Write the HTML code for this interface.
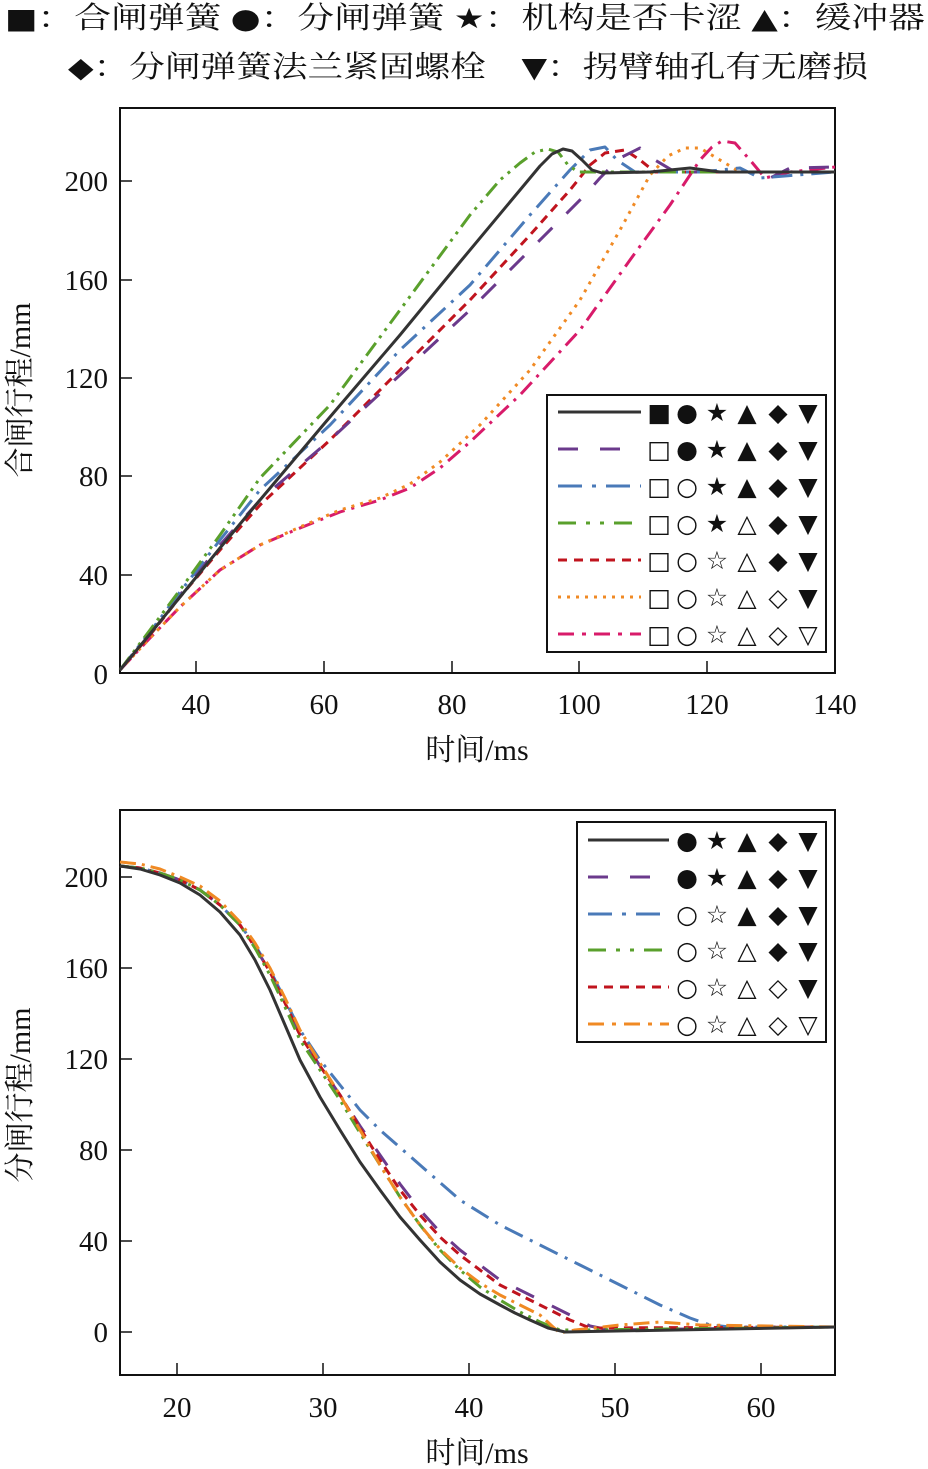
<!DOCTYPE html>
<html><head><meta charset="utf-8"><style>
html,body{margin:0;padding:0;background:#fff}
svg{display:block}
.t{font-family:"Liberation Serif","Noto Serif CJK SC",serif;font-size:29px;fill:#111}
.c{font-family:"Liberation Serif","Noto Serif CJK SC",serif;font-size:30px;fill:#111}
.g{font-family:"DejaVu Sans",sans-serif;font-size:28px}
.m{font-family:"DejaVu Sans",sans-serif;font-size:25px;fill:#111;text-anchor:middle}
</style></head><body>
<svg width="928" height="1469" viewBox="0 0 928 1469" xmlns="http://www.w3.org/2000/svg">
<text class="c" x="5" y="28" textLength="920" lengthAdjust="spacingAndGlyphs"><tspan class="g">■</tspan>：合闸弹簧 <tspan class="g">●</tspan>：分闸弹簧 <tspan class="g">★</tspan>：机构是否卡涩 <tspan class="g">▲</tspan>：缓冲器</text>
<text class="c" x="68" y="77" textLength="800" lengthAdjust="spacingAndGlyphs"><tspan class="g">◆</tspan>：分闸弹簧法兰紧固螺栓　<tspan class="g">▼</tspan>：拐臂轴孔有无磨损</text>

<!-- TOP CHART -->
<rect x="120" y="108" width="715" height="565" fill="none" stroke="#111" stroke-width="2"/>
<g stroke="#111" stroke-width="1.5">
<line x1="196" y1="673" x2="196" y2="661"/><line x1="324" y1="673" x2="324" y2="661"/><line x1="452" y1="673" x2="452" y2="661"/><line x1="579" y1="673" x2="579" y2="661"/><line x1="707" y1="673" x2="707" y2="661"/>
<line x1="120" y1="181" x2="132" y2="181"/><line x1="120" y1="280" x2="132" y2="280"/><line x1="120" y1="378" x2="132" y2="378"/><line x1="120" y1="476" x2="132" y2="476"/><line x1="120" y1="575" x2="132" y2="575"/>
</g>
<g class="t" text-anchor="middle">
<text x="196" y="714">40</text><text x="324" y="714">60</text><text x="452" y="714">80</text><text x="579" y="714">100</text><text x="707" y="714">120</text><text x="835" y="714">140</text>
</g>
<g class="t" text-anchor="end">
<text x="108" y="191">200</text><text x="108" y="290">160</text><text x="108" y="388">120</text><text x="108" y="486">80</text><text x="108" y="585">40</text><text x="108" y="684">0</text>
</g>
<text class="c" x="477" y="760" text-anchor="middle">时间/ms</text>
<text class="c" x="0" y="0" text-anchor="middle" transform="translate(30,390) rotate(-90)">合闸行程/mm</text>
<g fill="none" stroke-width="3" stroke-linejoin="round">
<polyline stroke="#d81b6a" stroke-dasharray="16,7,3,7" points="120,670 150,638 180,607 220,570 260,545 300,528 340,512 380,500 410,488 440,468 470,442 520,395 580,330 630,260 670,205 700,160 712,147 722,141 735,143 750,160 765,178 790,172 835,167"/>
<polyline stroke="#f08a24" stroke-dasharray="3,6" points="120,670 150,638 180,607 220,570 260,545 300,527 340,510 380,498 410,484 440,462 480,425 530,370 580,300 620,230 650,175 668,156 685,148 700,148 720,160 740,172 835,172"/>
<polyline stroke="#c0141e" stroke-dasharray="9,6" points="120,670 150,635 180,597 220,550 260,505 330,440 400,370 470,300 530,235 570,190 590,165 605,153 625,150 640,160 655,172 835,172"/>
<polyline stroke="#6b3a8c" stroke-dasharray="20,20" points="120,670 150,634 180,595 220,545 260,500 330,440 400,375 470,310 530,250 585,195 600,178 620,158 640,148 655,160 675,172 760,172 770,178 790,168 835,167"/>
<polyline stroke="#4a7ab8" stroke-dasharray="20,8,3,8" points="120,670 150,632 180,592 220,540 260,490 330,425 400,350 470,285 530,215 570,170 590,150 605,147 617,160 635,172 700,172 740,168 760,178 835,172"/>
<polyline stroke="#5aa02c" stroke-dasharray="16,6,3,6,3,6" points="120,670 150,630 180,590 220,535 260,478 330,405 400,310 470,215 500,180 520,163 535,152 548,149 558,152 568,165 578,172 835,172"/>
<polyline stroke="#333" points="120,670 150,634 180,597 220,548 260,500 324,424 400,335 460,262 520,190 540,166 552,154 563,149 572,151 582,160 592,170 602,173 650,172 690,168 720,172 835,172"/>
</g>
<rect x="547" y="395" width="279" height="257" fill="#fff" stroke="#111" stroke-width="2"/>
<g stroke-width="3">
<line x1="558" y1="412" x2="641" y2="412" stroke="#333"/>
<line x1="558" y1="449" x2="641" y2="449" stroke="#6b3a8c" stroke-dasharray="20,22"/>
<line x1="558" y1="486" x2="641" y2="486" stroke="#4a7ab8" stroke-dasharray="24,10,4,10"/>
<line x1="558" y1="523" x2="641" y2="523" stroke="#5aa02c" stroke-dasharray="18,10,4,10,4,10"/>
<line x1="558" y1="560" x2="641" y2="560" stroke="#c0141e" stroke-dasharray="9,7"/>
<line x1="558" y1="597" x2="641" y2="597" stroke="#f08a24" stroke-dasharray="3,6"/>
<line x1="558" y1="634" x2="641" y2="634" stroke="#d81b6a" stroke-dasharray="16,8,4,8"/>
</g>
<g class="m">
<text x="659" y="421">■</text><text x="687" y="421">●</text><text x="717" y="421">★</text><text x="747" y="421">▲</text><text x="778" y="421">◆</text><text x="808" y="421">▼</text>
<text x="659" y="458">□</text><text x="687" y="458">●</text><text x="717" y="458">★</text><text x="747" y="458">▲</text><text x="778" y="458">◆</text><text x="808" y="458">▼</text>
<text x="659" y="495">□</text><text x="687" y="495">○</text><text x="717" y="495">★</text><text x="747" y="495">▲</text><text x="778" y="495">◆</text><text x="808" y="495">▼</text>
<text x="659" y="532">□</text><text x="687" y="532">○</text><text x="717" y="532">★</text><text x="747" y="532">△</text><text x="778" y="532">◆</text><text x="808" y="532">▼</text>
<text x="659" y="569">□</text><text x="687" y="569">○</text><text x="717" y="569">☆</text><text x="747" y="569">△</text><text x="778" y="569">◆</text><text x="808" y="569">▼</text>
<text x="659" y="606">□</text><text x="687" y="606">○</text><text x="717" y="606">☆</text><text x="747" y="606">△</text><text x="778" y="606">◇</text><text x="808" y="606">▼</text>
<text x="659" y="643">□</text><text x="687" y="643">○</text><text x="717" y="643">☆</text><text x="747" y="643">△</text><text x="778" y="643">◇</text><text x="808" y="643">▽</text>
</g>

<!-- BOTTOM CHART -->
<rect x="120" y="810" width="715" height="565" fill="none" stroke="#111" stroke-width="2"/>
<g stroke="#111" stroke-width="1.5">
<line x1="177" y1="1375" x2="177" y2="1363"/><line x1="323" y1="1375" x2="323" y2="1363"/><line x1="469" y1="1375" x2="469" y2="1363"/><line x1="615" y1="1375" x2="615" y2="1363"/><line x1="761" y1="1375" x2="761" y2="1363"/>
<line x1="120" y1="877" x2="132" y2="877"/><line x1="120" y1="968" x2="132" y2="968"/><line x1="120" y1="1059" x2="132" y2="1059"/><line x1="120" y1="1150" x2="132" y2="1150"/><line x1="120" y1="1241" x2="132" y2="1241"/><line x1="120" y1="1332" x2="132" y2="1332"/>
</g>
<g class="t" text-anchor="middle">
<text x="177" y="1417">20</text><text x="323" y="1417">30</text><text x="469" y="1417">40</text><text x="615" y="1417">50</text><text x="761" y="1417">60</text>
</g>
<g class="t" text-anchor="end">
<text x="108" y="887">200</text><text x="108" y="978">160</text><text x="108" y="1069">120</text><text x="108" y="1160">80</text><text x="108" y="1251">40</text><text x="108" y="1342">0</text>
</g>
<text class="c" x="477" y="1463" text-anchor="middle">时间/ms</text>
<text class="c" x="0" y="0" text-anchor="middle" transform="translate(30,1095) rotate(-90)">分闸行程/mm</text>
<g fill="none" stroke-width="3" stroke-linejoin="round">
<polyline stroke="#4a7ab8" stroke-dasharray="20,8,3,8" points="120,866 140,868 160,873 180,880 200,890 220,905 240,925 255,945 270,970 285,1000 300,1030 320,1060 340,1085 360,1110 380,1130 420,1165 460,1200 500,1225 540,1245 580,1265 620,1285 660,1305 690,1318 710,1325 730,1327 835,1327"/>
<polyline stroke="#6b3a8c" stroke-dasharray="20,20" points="120,866 140,868 160,873 180,880 200,890 220,905 240,925 255,947 270,972 285,1003 300,1035 320,1066 340,1095 360,1126 380,1155 400,1184 420,1210 440,1232 460,1250 500,1280 540,1300 570,1315 590,1326 610,1330 835,1327"/>
<polyline stroke="#c0141e" stroke-dasharray="9,6" points="120,866 140,868 160,873 180,880 200,890 220,905 240,925 255,947 270,972 285,1003 300,1035 320,1066 340,1095 360,1128 380,1160 400,1190 420,1215 440,1237 460,1255 500,1285 540,1305 570,1320 590,1328 835,1327"/>
<polyline stroke="#5aa02c" stroke-dasharray="16,6,3,6,3,6" points="120,866 140,868 160,873 180,880 200,890 220,905 240,925 255,948 270,975 285,1007 300,1040 320,1070 340,1100 360,1133 380,1165 400,1197 420,1225 440,1250 460,1270 480,1287 500,1300 520,1312 540,1322 560,1330 580,1330 835,1327"/>
<polyline stroke="#f08a24" stroke-dasharray="16,6,3,6" points="120,862 140,864 160,869 180,877 200,886 220,901 240,922 255,943 270,968 285,998 300,1030 320,1063 340,1095 360,1130 380,1165 400,1197 420,1225 440,1249 460,1268 480,1283 500,1295 520,1305 540,1315 552,1326 560,1333 575,1330 620,1325 660,1322 700,1325 835,1327"/>
<polyline stroke="#333" points="120,866 140,869 160,875 180,883 200,895 220,912 240,935 255,960 270,990 285,1025 300,1060 320,1097 340,1130 360,1162 380,1190 400,1217 420,1240 440,1262 460,1280 480,1294 500,1305 515,1313 530,1320 548,1328 565,1332 835,1327"/>
</g>
<rect x="577" y="822" width="249" height="220" fill="#fff" stroke="#111" stroke-width="2"/>
<g stroke-width="3">
<line x1="588" y1="840" x2="669" y2="840" stroke="#333"/>
<line x1="588" y1="877" x2="669" y2="877" stroke="#6b3a8c" stroke-dasharray="20,22"/>
<line x1="588" y1="914" x2="669" y2="914" stroke="#4a7ab8" stroke-dasharray="24,10,4,10"/>
<line x1="588" y1="950" x2="669" y2="950" stroke="#5aa02c" stroke-dasharray="18,10,4,10,4,10"/>
<line x1="588" y1="987" x2="669" y2="987" stroke="#c0141e" stroke-dasharray="9,7"/>
<line x1="588" y1="1024" x2="669" y2="1024" stroke="#f08a24" stroke-dasharray="16,8,4,8"/>
</g>
<g class="m">
<text x="687" y="849">●</text><text x="717" y="849">★</text><text x="747" y="849">▲</text><text x="778" y="849">◆</text><text x="808" y="849">▼</text>
<text x="687" y="886">●</text><text x="717" y="886">★</text><text x="747" y="886">▲</text><text x="778" y="886">◆</text><text x="808" y="886">▼</text>
<text x="687" y="923">○</text><text x="717" y="923">☆</text><text x="747" y="923">▲</text><text x="778" y="923">◆</text><text x="808" y="923">▼</text>
<text x="687" y="959">○</text><text x="717" y="959">☆</text><text x="747" y="959">△</text><text x="778" y="959">◆</text><text x="808" y="959">▼</text>
<text x="687" y="996">○</text><text x="717" y="996">☆</text><text x="747" y="996">△</text><text x="778" y="996">◇</text><text x="808" y="996">▼</text>
<text x="687" y="1033">○</text><text x="717" y="1033">☆</text><text x="747" y="1033">△</text><text x="778" y="1033">◇</text><text x="808" y="1033">▽</text>
</g>
</svg>
</body></html>
